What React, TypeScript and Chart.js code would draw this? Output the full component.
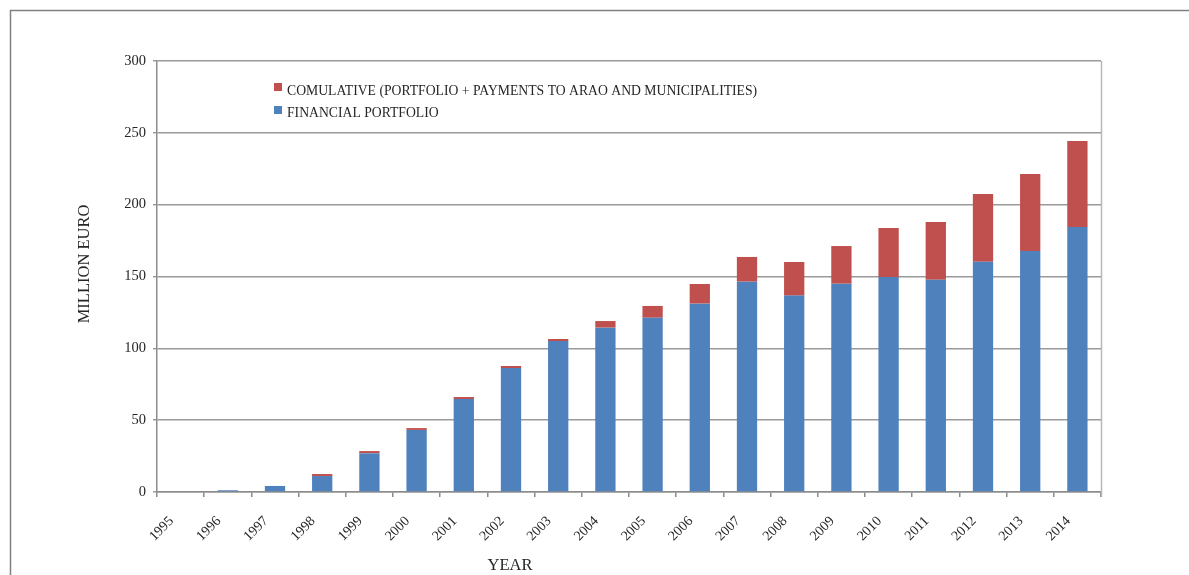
import React, { useEffect, useRef } from "react";
import { Chart, registerables } from "chart.js";

Chart.register(...registerables);

const years = ["1995", "1996", "1997", "1998", "1999", "2000", "2001", "2002", "2003", "2004", "2005", "2006", "2007", "2008", "2009", "2010", "2011", "2012", "2013", "2014"];
const cumulative = [0, 1.2, 4.2, 12.5, 28.5, 44.5, 66.1, 87.7, 106.5, 119.0, 129.5, 144.8, 163.6, 160.1, 171.2, 183.7, 187.9, 207.4, 221.3, 244.3];
const financial = [0, 1.2, 4.2, 11.1, 26.9, 43.2, 64.7, 86.3, 105.1, 114.4, 121.3, 131.1, 146.4, 136.7, 145.0, 149.6, 147.8, 160.3, 167.7, 184.4];
const yTicks = [0, 50, 100, 150, 200, 250, 300];
const cumulativeLabel = "COMULATIVE (PORTFOLIO + PAYMENTS TO ARAO AND MUNICIPALITIES)";
const financialLabel = "FINANCIAL PORTFOLIO";
const yTitle = "MILLION EURO";
const xTitle = "YEAR";

const RED = "#C0504D";
const BLUE = "#4F81BD";
const TEXT = "#262626";
const FONT = "'Liberation Serif', 'DejaVu Serif', serif";

const decor = {
  id: "decor",
  beforeDraw(chart: any) {
    const ctx = chart.ctx;
    ctx.save();
    ctx.strokeStyle = "#808080";
    ctx.lineWidth = 1.5;
    ctx.beginPath();
    ctx.moveTo(10.5, 575);
    ctx.lineTo(10.5, 10.5);
    ctx.lineTo(1189, 10.5);
    ctx.stroke();
    ctx.restore();
  },
  afterDraw(chart: any) {
    const ctx = chart.ctx;
    const area = chart.chartArea;
    ctx.save();
    // right border of plot area
    ctx.strokeStyle = "#b8b8b8";
    ctx.lineWidth = 1.5;
    ctx.beginPath();
    ctx.moveTo(Math.round(area.right) + 0.5, area.top);
    ctx.lineTo(Math.round(area.right) + 0.5, area.bottom + 5);
    ctx.stroke();

    // legend (red first, then blue)
    const items = [
      { label: chart.data.datasets[1].label, color: chart.data.datasets[1].backgroundColor, y: 83, base: 94.5 },
      { label: chart.data.datasets[0].label, color: chart.data.datasets[0].backgroundColor, y: 106, base: 116.8 },
    ];
    ctx.font = `13.7px ${FONT}`;
    ctx.textAlign = "left";
    ctx.textBaseline = "alphabetic";
    for (const it of items) {
      ctx.fillStyle = it.color;
      ctx.fillRect(274, it.y, 8, 8);
      ctx.fillStyle = TEXT;
      ctx.fillText(it.label, 287, it.base);
    }

    // axis titles
    ctx.font = `16.5px ${FONT}`;
    ctx.fillStyle = TEXT;
    ctx.textAlign = "center";
    ctx.textBaseline = "middle";
    ctx.fillText(xTitle, 510, 566);
    ctx.translate(85, 264);
    ctx.rotate(-Math.PI / 2);
    ctx.fillText(yTitle, 0, 0);
    ctx.restore();
  },
};

export default function App() {
  const ref = useRef<HTMLCanvasElement>(null);

  useEffect(() => {
    if (!ref.current) return;
    const chart = new Chart(ref.current, {
      type: "bar",
      data: {
        labels: years,
        datasets: [
          {
            label: financialLabel,
            data: financial,
            backgroundColor: BLUE,
            categoryPercentage: 1,
            barPercentage: 0.43,
          },
          {
            label: cumulativeLabel,
            data: cumulative.map((v, i) => Math.max(0, v - financial[i])),
            backgroundColor: RED,
            categoryPercentage: 1,
            barPercentage: 0.43,
          },
        ],
      },
      options: {
        animation: false,
        responsive: false,
        devicePixelRatio: 1,
        layout: { padding: { top: 61, right: 88, left: 0, bottom: 0 } },
        plugins: {
          legend: { display: false },
          tooltip: { enabled: false },
          title: { display: false },
        },
        scales: {
          x: {
            stacked: true,
            grid: { offset: true, drawOnChartArea: false, tickLength: 5, color: "#8c8c8c", lineWidth: 1.5 },
            border: { color: "#8c8c8c", width: 1.5 },
            ticks: {
              autoSkip: false,
              minRotation: 45,
              maxRotation: 45,
              padding: 16,
              labelOffset: -9,
              color: TEXT,
              font: { family: FONT, size: 14 },
            },
            afterFit(s: any) {
              s.height = 83;
            },
          },
          y: {
            stacked: true,
            min: 0,
            max: 300,
            afterBuildTicks(s: any) {
              s.ticks = yTicks.map((v) => ({ value: v }));
            },
            grid: { color: "#9a9a9a", tickLength: 4, lineWidth: 1.5 },
            border: { color: "#8c8c8c", width: 1.5 },
            ticks: {
              padding: 7,
              color: TEXT,
              font: { family: FONT, size: 14.5 },
            },
            afterFit(s: any) {
              s.width = 157;
            },
          },
        },
      },
      plugins: [decor],
    });
    return () => chart.destroy();
  }, []);

  return (
    <div style={{ position: "absolute", left: 0, top: 0, width: 1189, height: 575, background: "#fff" }}>
      <canvas ref={ref} width={1189} height={575} style={{ display: "block" }} />
    </div>
  );
}
